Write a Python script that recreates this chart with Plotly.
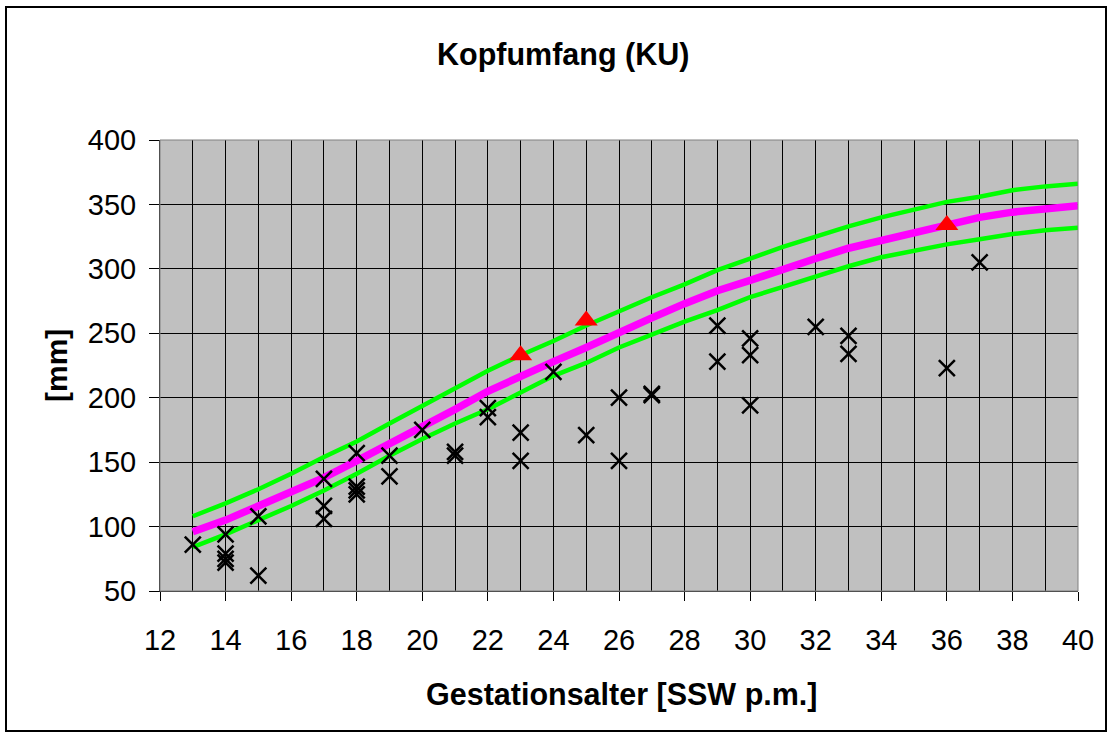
import plotly.graph_objects as go

# ---- data ----
weeks = list(range(13, 41))
median = [96, 105, 116, 127, 138, 151, 164, 177, 191, 205, 217, 228, 239, 251,
          262, 273, 283, 291, 300, 308, 316, 322, 328, 334, 340, 344, 347, 349]
upper = [108, 118, 129, 141, 154, 166, 180, 194, 208, 221, 233, 244, 256, 267,
         278, 288, 299, 308, 317, 325, 333, 340, 346, 352, 356, 361, 364, 366]
lower = [84, 94, 105, 116, 128, 141, 155, 168, 180, 191, 204, 217, 227, 239,
         249, 259, 268, 278, 286, 294, 302, 309, 314, 319, 323, 327, 330, 332]

meas_x = [13, 14, 14, 14, 14, 15, 15, 17, 17, 17, 18, 18, 18, 18, 19, 19, 20,
          21, 21, 22, 22, 23, 23, 24, 25, 26, 26, 27, 27, 29, 29, 30, 30, 30,
          32, 33, 33, 36, 37]
meas_y = [86, 94, 79, 75, 72, 108, 62, 137, 116, 106, 157, 131, 128, 125, 155,
          139, 175, 158, 155, 192, 185, 173, 151, 220, 171, 200, 151, 203, 202,
          256, 228, 246, 233, 194, 255, 248, 234, 223, 305]

tri_x = [23, 25, 36]
tri_y = [233, 260, 334]

x_ticks = list(range(12, 41, 2))
y_ticks = list(range(50, 401, 50))

title_text = "Kopfumfang (KU)"
x_title = "Gestationsalter [SSW p.m.]"
y_title = "[mm]"

# ---- layout geometry (pixels) ----
W, H = 1109, 734
L, R, T, B = 160, 31, 140, 143
PW, PH = W - L - R, H - T - B


def px(x):
    return (x - L) / PW


def py(y):
    return (H - B - y) / PH


FONT = "Liberation Sans, Arial, sans-serif"

fig = go.Figure()
fig.add_trace(go.Scatter(x=weeks, y=upper, mode="lines",
                         line=dict(color="#00FF00", width=4.5), showlegend=False))
fig.add_trace(go.Scatter(x=weeks, y=lower, mode="lines",
                         line=dict(color="#00FF00", width=4.5), showlegend=False))
fig.add_trace(go.Scatter(x=weeks, y=median, mode="lines",
                         line=dict(color="#FF00FF", width=7.5), showlegend=False))
fig.add_trace(go.Scatter(x=meas_x, y=meas_y, mode="markers",
                         marker=dict(symbol="x-thin", size=16, color="black",
                                     line=dict(color="black", width=2.5)),
                         showlegend=False))
fig.add_trace(go.Scatter(x=tri_x, y=tri_y, mode="markers",
                         marker=dict(symbol="triangle-up", size=20, color="#FF0000",
                                     line=dict(width=0)),
                         showlegend=False))

fig.update_layout(
    width=W, height=H,
    margin=dict(l=L, r=R, t=T, b=B, pad=0),
    paper_bgcolor="white",
    plot_bgcolor="#C0C0C0",
    font=dict(family=FONT, color="black", size=29),
    showlegend=False,
    xaxis=dict(
        range=[12, 40], tickvals=x_ticks, ticktext=[str(v) for v in x_ticks],
        ticks="outside", ticklen=9, tickwidth=1, tickcolor="black",
        showgrid=True, gridcolor="black", gridwidth=1,
        minor=dict(dtick=1, showgrid=True, gridcolor="black", gridwidth=1, ticks=""),
        showline=True, linecolor="#202020", linewidth=1,
        zeroline=False, tickfont=dict(size=29, family=FONT, color="black"),
        ticklabelstandoff=14,
    ),
    yaxis=dict(
        range=[50, 400], tickvals=y_ticks, ticktext=[str(v) for v in y_ticks],
        ticks="outside", ticklen=10, tickwidth=1, tickcolor="black",
        showgrid=True, gridcolor="black", gridwidth=1,
        showline=True, linecolor="#202020", linewidth=1,
        zeroline=False, tickfont=dict(size=29, family=FONT, color="black"),
        ticklabelstandoff=7,
    ),
    shapes=[
        dict(type="rect", xref="paper", yref="paper", x0=0, x1=1, y0=0, y1=1,
             line=dict(color="#808080", width=1), fillcolor="rgba(0,0,0,0)",
             layer="above"),
        dict(type="rect", xref="paper", yref="paper",
             x0=px(6), x1=px(1106), y0=py(731), y1=py(7),
             line=dict(color="black", width=2), fillcolor="rgba(0,0,0,0)"),
    ],
    annotations=[
        dict(text="<b>%s</b>" % title_text, xref="paper", yref="paper",
             x=px(563), y=py(54), xanchor="center", yanchor="middle",
             showarrow=False, font=dict(size=30.5, family=FONT, color="black")),
        dict(text="<b>%s</b>" % x_title, xref="paper", yref="paper",
             x=px(621), y=py(694), xanchor="center", yanchor="middle",
             showarrow=False, font=dict(size=30.5, family=FONT, color="black")),
        dict(text="<b>%s</b>" % y_title, xref="paper", yref="paper",
             x=px(56), y=py(366), xanchor="center", yanchor="middle",
             textangle=-90, showarrow=False,
             font=dict(size=30, family=FONT, color="black")),
    ],
)

fig.write_html("out.html",
               config={"displayModeBar": False},
               post_script="document.body.style.margin='0';"
                           "document.body.style.overflow='hidden';")
